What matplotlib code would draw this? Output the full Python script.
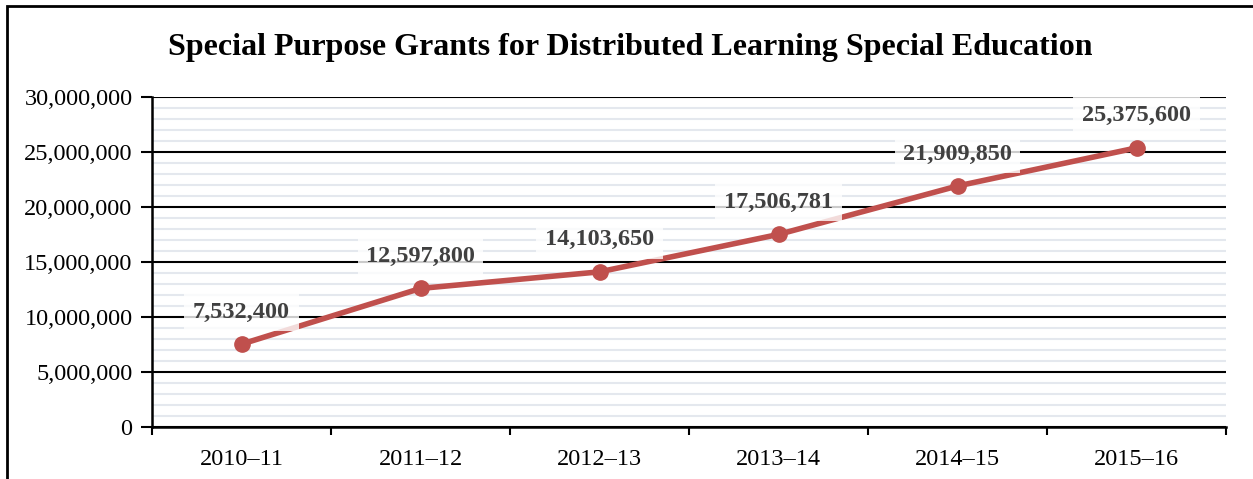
import matplotlib.pyplot as plt
from matplotlib.ticker import MultipleLocator, FuncFormatter
from matplotlib.patches import Rectangle

plt.rcParams['font.family'] = ['Liberation Serif', 'DejaVu Serif']

anni = ["2010\u201311", "2011\u201312", "2012\u201313", "2013\u201314", "2014\u201315", "2015\u201316"]
importi = [7532400, 12597800, 14103650, 17506781, 21909850, 25375600]
etichette = ["7,532,400", "12,597,800", "14,103,650", "17,506,781", "21,909,850", "25,375,600"]

fig = plt.figure(figsize=(12.53, 4.79), dpi=100)
ax = fig.add_axes([152 / 1253, 1 - 427 / 479, (1226 - 152) / 1253, (427 - 97) / 479])

# cornice della figura (solo lati sinistro e superiore visibili)
fig.patches.append(Rectangle((7 / 1253, -0.1), 1.2, 1 - 6 / 479 + 0.1, transform=fig.transFigure,
                             fill=False, edgecolor="black", linewidth=2))

x = list(range(len(anni)))
ax.plot(x, importi, color="#C0504D", linewidth=4, marker="o", markersize=11, zorder=4)

for xi, yi, testo in zip(x, importi, etichette):
    ax.annotate(testo, (xi, yi), xytext=(0, 23), textcoords="offset points", ha="center", va="center",
                fontsize=17.5, fontweight="bold", color="#404040", zorder=5,
                bbox=dict(boxstyle="square,pad=0.35", facecolor="white", edgecolor="none", alpha=0.8))

ax.set_xlim(-0.5, 5.5)
ax.set_ylim(0, 30000000)
ax.set_xticks(x)
ax.set_xticklabels(anni, fontsize=17.5)
ax.set_xticks([i - 0.5 for i in range(len(anni) + 1)], minor=True)
ax.tick_params(axis="x", which="major", length=0, pad=16)
ax.tick_params(axis="x", which="minor", length=6, width=1.5, direction="out")

ax.yaxis.set_major_locator(MultipleLocator(5000000))
ax.yaxis.set_minor_locator(MultipleLocator(1000000))
ax.yaxis.set_major_formatter(FuncFormatter(lambda v, p: f"{int(v):,}"))
ax.tick_params(axis="y", which="major", labelsize=17.5, length=8, width=1.5, direction="out", pad=6)
ax.tick_params(axis="y", which="minor", length=0)

ax.grid(axis="y", which="major", color="black", linewidth=1.5)
ax.grid(axis="y", which="minor", color="#E4E8EE", linewidth=1.5)
ax.set_axisbelow(True)

for lato in ["top", "right"]:
    ax.spines[lato].set_visible(False)
ax.spines["left"].set_linewidth(1.8)
ax.spines["bottom"].set_linewidth(1.8)

fig.text(630 / 1253, 1 - 47 / 479, "Special Purpose Grants for Distributed Learning Special Education",
         ha="center", va="center", fontsize=23, fontweight="bold")

fig.savefig("out.png", dpi=100)
